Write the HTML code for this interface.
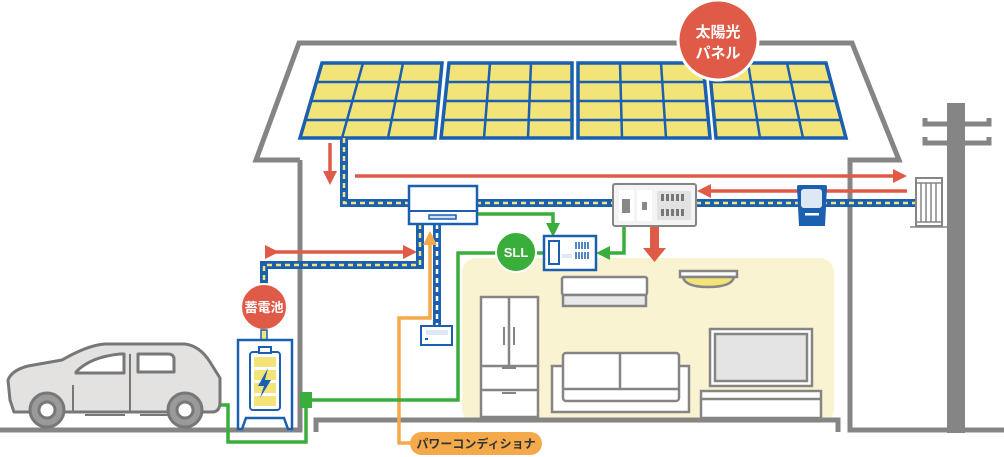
<!DOCTYPE html>
<html><head><meta charset="utf-8"><style>
html,body{margin:0;padding:0;background:#fff;}
svg{display:block;font-family:"Liberation Sans","Noto Sans CJK JP",sans-serif;}
</style></head><body>
<svg width="1004" height="457" viewBox="0 0 1004 457" xmlns="http://www.w3.org/2000/svg">
<defs>
<marker id="ar" markerWidth="4" markerHeight="4" refX="2" refY="2" orient="auto" markerUnits="strokeWidth"><path d="M0,0 L4,2 L0,4 Z" fill="#e05a48"/></marker>
<marker id="ag" markerWidth="4" markerHeight="4" refX="2" refY="2" orient="auto" markerUnits="strokeWidth"><path d="M0,0 L4,2 L0,4 Z" fill="#3aae3a"/></marker>
<marker id="ao" markerWidth="4" markerHeight="4" refX="2" refY="2" orient="auto" markerUnits="strokeWidth"><path d="M0,0 L4,2 L0,4 Z" fill="#f4a94a"/></marker>
</defs>
<rect x="462" y="258" width="372" height="165" rx="14" fill="#faf3d2"/>
<g fill="none" stroke="#858585" stroke-width="5">
<path d="M300,160 L256,160 L299,43 L852,43 L899,160 L850,160 L850,430 L1004,430"/>
<path d="M300,160 L300,430 L0,430"/>
<path d="M316,432 L316,420 L838,420 L838,432"/>
</g>
<rect x="947" y="103" width="18" height="330" fill="#858585"/>
<g fill="none" stroke="#858585" stroke-width="5"><path d="M925,118 V124 H989 V118"/><path d="M925,137 V143 H989 V137"/></g>
<g stroke="#1a5fb0" stroke-width="3.5" fill="#f3e47a">
<path d="M322,63 L442,63 L435,138 L300,138 Z"/>
<path d="M449,63 L572,63 L572,138 L441,138 Z"/>
<path d="M578,63 L703,63 L710,138 L578,138 Z"/>
<path d="M709,63 L826,63 L846,138 L716,138 Z"/>
</g>
<g stroke="#1a5fb0" stroke-width="2.5" fill="none">
<path d="M316,82 L440,82 M311,101 L438,101 M306,120 L437,120 M363,63 L342,138 M403,63 L388,138"/>
<path d="M447,82 L572,82 M445,101 L572,101 M443,120 L572,120 M490,63 L484,138 M531,63 L528,138"/>
<path d="M578,82 L705,82 M578,101 L707,101 M578,120 L709,120 M620,63 L622,138 M661,63 L666,138"/>
<path d="M711,82 L831,82 M713,101 L836,101 M715,120 L841,120 M748,63 L760,138 M787,63 L803,138"/>
</g>
<circle cx="718" cy="40" r="40" fill="#e05a48" stroke="#fff" stroke-width="3"/>
<text x="718" y="37" fill="#fff" font-size="15" font-weight="bold" text-anchor="middle">太陽光</text>
<text x="718" y="58" fill="#fff" font-size="15" font-weight="bold" text-anchor="middle">パネル</text>
<g stroke="#e05a48" stroke-width="3.5" fill="none">
<path d="M330,143 V178" marker-end="url(#ar)"/>
<path d="M355,176 H900" marker-end="url(#ar)"/>
<path d="M907,191 H704" marker-end="url(#ar)"/>
<path d="M272,252 H410" marker-end="url(#ar)" marker-start="url(#ar)"/>
</g>
<path d="M650,226 H659 V248 H666 L654.5,262 L643,248 H650 Z" fill="#e05a48"/>
<g fill="none" stroke="#1a5fb0" stroke-width="8">
<path d="M344,138 V203 H410"/><path d="M476,203 H613"/><path d="M696,203 H916"/>
<path d="M420,224 V265 H264 V285"/><path d="M437,224 V327"/>
</g>
<g fill="none" stroke="#f3e47a" stroke-width="2.5" stroke-dasharray="5,4">
<path d="M344,138 V203 H410"/><path d="M476,203 H613"/><path d="M696,203 H916"/>
<path d="M420,224 V265 H264 V285"/>
</g>
<path d="M437,224 V327" stroke="#fff" stroke-width="2.5" stroke-dasharray="5,4" fill="none"/>
<path d="M540,443 H399 V318 H430 V238" fill="none" stroke="#f4a94a" stroke-width="3.5" marker-end="url(#ao)"/>
<rect x="410" y="432" width="132" height="23" rx="11.5" fill="#f4a94a"/>
<text x="476" y="448" font-size="12" font-weight="bold" fill="#333" text-anchor="middle">パワーコンディショナ</text>
<g fill="none" stroke="#3aae3a" stroke-width="3.5">
<path d="M476,214 H553 V230" marker-end="url(#ag)"/>
<path d="M624,226 V253 H603" marker-end="url(#ag)"/>
<path d="M543,253 H458 V400 H306"/>
<path d="M306,400 V442 H228 V405 H212"/>
</g>
<rect x="300" y="392" width="12" height="16" fill="#3aae3a"/>
<circle cx="516" cy="252" r="20" fill="#3aae3a" stroke="#fff" stroke-width="2"/>
<text x="516" y="257" font-size="13" font-weight="bold" fill="#fff" text-anchor="middle">SLL</text>
<rect x="409" y="186" width="68" height="38" fill="#fff" stroke="#1a5fb0" stroke-width="2.5"/>
<line x1="409" y1="211" x2="477" y2="211" stroke="#1a5fb0" stroke-width="2"/>
<rect x="429" y="215" width="27" height="4" fill="#cfe2f3" stroke="#1a5fb0" stroke-width="1.5"/>
<rect x="421" y="326" width="31" height="19" fill="#fff" stroke="#1a5fb0" stroke-width="2"/>
<rect x="426" y="330" width="22" height="5" fill="#dce9f5"/><rect x="425" y="338" width="3" height="2" fill="#1a5fb0"/>
<rect x="544" y="236" width="52" height="34" fill="#fff" stroke="#1a5fb0" stroke-width="2.5"/>
<rect x="549" y="241" width="10" height="23" fill="#fff" stroke="#1a5fb0" stroke-width="2"/>
<rect x="562" y="254" width="10" height="4" fill="#dce9f5"/>
<g stroke="#1a5fb0" stroke-width="1.5"><path d="M576,242V249M579,242V249M582,242V249M585,242V249M588,242V249M576,252V259M579,252V259M582,252V259M585,252V259M588,252V259"/></g>
<rect x="613" y="184" width="83" height="42" rx="2" fill="#f4f4f4" stroke="#858585" stroke-width="2"/>
<rect x="619" y="190" width="15" height="31" fill="#fff"/><rect x="622" y="199" width="8" height="14" fill="#888"/>
<rect x="637" y="190" width="15" height="31" fill="#fff"/><rect x="642" y="202" width="5" height="8" fill="#888"/>
<rect x="657" y="191" width="34" height="29" fill="#e2e2e2"/>
<g fill="#777"><rect x="661" y="194" width="3" height="7"/><rect x="666" y="194" width="3" height="7"/><rect x="671" y="194" width="3" height="7"/><rect x="676" y="194" width="3" height="7"/><rect x="681" y="194" width="3" height="7"/>
<rect x="661" y="209" width="3" height="7"/><rect x="666" y="209" width="3" height="7"/><rect x="671" y="209" width="3" height="7"/><rect x="676" y="209" width="3" height="7"/><rect x="681" y="209" width="3" height="7"/></g>
<path d="M797,187 Q797,185 799,185 H825 Q827,185 827,187 L825,226 H799 Z" fill="#1a5fb0"/>
<rect x="801" y="189" width="21" height="19" rx="3" fill="#dce9f5"/><rect x="805" y="213" width="14" height="2.5" fill="#fff"/>
<rect x="916" y="178" width="26" height="48" fill="#fff" stroke="#858585" stroke-width="2"/>
<g stroke="#858585" stroke-width="1.5"><path d="M916,183H942M921,183V222M926,183V222M931,183V222M936,183V222M916,222H942M910,227H948"/></g>
<circle cx="264" cy="307" r="23" fill="#e05a48" stroke="#fff" stroke-width="2"/>
<text x="264" y="312" font-size="13" font-weight="bold" fill="#fff" text-anchor="middle">蓄電池</text>
<rect x="261" y="330" width="6" height="10" fill="#f3e47a" stroke="#1a5fb0" stroke-width="1.5"/>
<path d="M238,340 H292 V429 H288 L284,418 H246 L242,429 H238 Z" fill="#fff" stroke="#1a5fb0" stroke-width="2.5"/>
<rect x="250" y="352" width="30" height="58" rx="3" fill="#fff" stroke="#1a5fb0" stroke-width="2"/>
<rect x="259" y="347" width="12" height="6" fill="#fff" stroke="#1a5fb0" stroke-width="2"/>
<g fill="#f3e47a"><rect x="254" y="357" width="22" height="10"/><rect x="254" y="370" width="22" height="10"/><rect x="254" y="383" width="22" height="10"/><rect x="254" y="396" width="22" height="10"/></g>
<path d="M268,368 L258,386 H264 L260,398 L271,380 H265 Z" fill="#1a5fb0"/>
<!-- car -->
<g stroke="#777" stroke-width="3" fill="#e4e2e1" stroke-linejoin="round">
<path d="M10,400 L8,380 Q12,370 28,366 L62,360 Q88,345 105,344 H185 Q200,346 210,362 L220,378 V402 Q220,412 212,412 H14 Z"/>
<path d="M76,372 Q90,357 120,354 H124 V373 H76 Z" fill="#fff"/>
<path d="M138,354 H168 Q173,354 174,358 V372 H138 Z" fill="#fff"/>
<circle cx="47" cy="410" r="17" fill="#9a9a9a"/><circle cx="47" cy="410" r="8" fill="#fff"/>
<circle cx="185" cy="410" r="17" fill="#9a9a9a"/><circle cx="185" cy="410" r="8" fill="#fff"/>
</g>
<g stroke="#777" stroke-width="2" fill="none"><path d="M130,354 V412 M73,385 V412 M85,415 H125 M140,415 H170"/></g>
<g stroke="#858585" stroke-width="2.5" fill="#fff">
<rect x="481" y="297" width="57" height="120"/><line x1="509" y1="297" x2="509" y2="366"/><line x1="481" y1="366" x2="538" y2="366"/><line x1="481" y1="390" x2="538" y2="390"/>
<rect x="562" y="277" width="85" height="18" rx="2"/><rect x="563" y="295" width="83" height="11" fill="#e8e8e8"/>
<path d="M680,271 H737 V277 H680 Z"/><path d="M683,277 H734 Q732,287 708,287 Q685,287 683,277 Z" fill="#f3e47a"/>
<rect x="552" y="366" width="137" height="46"/><rect x="563" y="353" width="116" height="48" rx="3"/><line x1="620" y1="353" x2="620" y2="389"/><line x1="563" y1="389" x2="679" y2="389"/>
<rect x="710" y="329" width="102" height="57"/><rect x="715" y="334" width="92" height="47" fill="#e4e4e4"/>
<rect x="701" y="391" width="120" height="27"/><line x1="701" y1="399" x2="821" y2="399"/>
</g>
<g stroke="#858585" stroke-width="2"><path d="M504,327V345M514,327V345M502,368H516M502,393H516"/></g>
</svg>
</body></html>
